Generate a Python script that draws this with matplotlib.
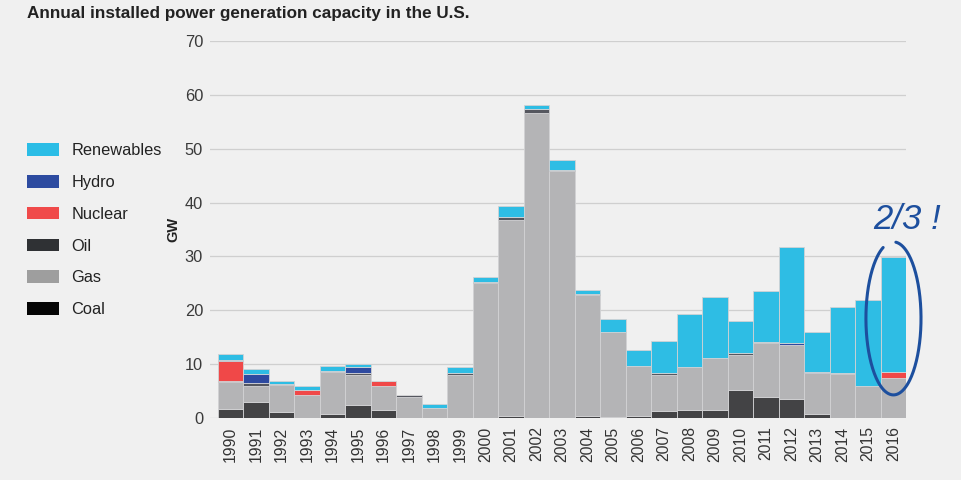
import numpy as np
import matplotlib
matplotlib.use('Agg')
import matplotlib.pyplot as plt
from matplotlib.patches import Patch

plt.rcParams['font.family'] = ['Liberation Sans', 'DejaVu Sans']

# data (GW)
years = [str(y) for y in range(1990, 2017)]
coal = [1.7, 3.0, 1.15, 0, 0.75, 2.4, 1.5, 0, 0, 0,
        0, 0.3, 0, 0, 0.4, 0.2, 0.3, 1.4, 1.55, 1.5,
        5.2, 4.0, 3.5, 0.75, 0, 0, 0]
gas = [5.0, 3.0, 5.0, 4.25, 7.8, 5.6, 4.45, 3.85, 1.8, 8.0,
       25.1, 36.4, 56.6, 45.8, 22.4, 15.8, 9.3, 6.6, 7.95, 9.7,
       6.5, 9.9, 10.1, 7.6, 8.1, 6.0, 7.5]
oil = [0.2, 0.5, 0.1, 0, 0.2, 0.3, 0, 0.4, 0, 0.3,
       0.2, 0.6, 0.7, 0.3, 0.2, 0, 0, 0.3, 0, 0,
       0.3, 0.3, 0, 0, 0.3, 0, 0]
nuclear = [3.7, 0, 0, 1.0, 0, 0, 0.95, 0, 0, 0,
           0, 0, 0, 0, 0, 0, 0, 0, 0, 0,
           0, 0, 0, 0, 0, 0, 1.0]
hydro = [0.25, 1.6, 0, 0, 0, 1.2, 0, 0, 0, 0,
         0, 0, 0, 0, 0, 0, 0, 0, 0, 0,
         0, 0, 0.3, 0.25, 0, 0, 0]
renewables = [1.0, 1.0, 0.6, 0.65, 0.9, 0.5, 0, 0, 0.75, 1.1,
              0.8, 2.0, 0.9, 1.9, 0.7, 2.4, 3.05, 6.0, 9.85, 11.3,
              6.1, 9.4, 17.9, 7.4, 12.3, 16.0, 21.4]

series = [('Coal', coal, '#434345', '#050505'),
          ('Gas', gas, '#b4b4b6', '#9e9e9e'),
          ('Oil', oil, '#55575f', '#2f3134'),
          ('Nuclear', nuclear, '#f04848', '#f04a4a'),
          ('Hydro', hydro, '#2e4aa0', '#2d4ba0'),
          ('Renewables', renewables, '#2ebde4', '#2bbde6')]

bg = '#f0f0f0'
fig = plt.figure(figsize=(9.61, 4.8), dpi=100, facecolor=bg)
ax = fig.add_axes([0.2185, 0.129, 0.7245, 0.7856], facecolor=bg)

x = np.arange(len(years))
bottom = np.zeros(len(years))
for name, vals, col, _ in series:
    v = np.array(vals, dtype=float)
    ax.bar(x, v, width=1.0, bottom=bottom, color=col,
           edgecolor='#d2d2d4', linewidth=0.6, zorder=3)
    bottom += v

ax.set_ylim(0, 70)
ax.set_xlim(-0.5 - 0.3, len(years) - 0.5)
ax.set_yticks(range(0, 71, 10))
ax.yaxis.grid(True, color='#cfcfcf', linewidth=0.9, zorder=0)
ax.set_xticks(x)
ax.set_xticklabels(years, rotation=90, fontsize=11.3, color='#333333')
ax.tick_params(axis='y', labelsize=11.8, colors='#3a3a3a', length=0, pad=5)
ax.tick_params(axis='x', length=0, pad=6)
for s in ax.spines.values():
    s.set_visible(False)
ax.set_ylabel('GW', fontsize=10.5, fontweight='bold', color='#222222', labelpad=3)

fig.text(0.028, 0.988, 'Annual installed power generation capacity in the U.S.',
         fontsize=12.3, fontweight='bold', color='#222222', va='top', ha='left')

# legend, top to bottom
handles = [Patch(facecolor=lc, edgecolor='none', label=n)
           for n, _, _, lc in series[::-1]]
fig.legend(handles=handles, loc='upper left', bbox_to_anchor=(0.013, 0.732),
           frameon=False, fontsize=11.8, handlelength=1.95, handleheight=0.8,
           labelspacing=1.02, handletextpad=0.73, labelcolor='#222222')

# hand-drawn note around 2016 (open loop, gap at the top)
ink = '#1d4f9e'
t = np.radians(np.linspace(112, 445, 200))
ax.plot(26.0 + 1.08 * np.cos(t), 18.5 + 14.2 * np.sin(t), color=ink,
        linewidth=2.2, solid_capstyle='round', clip_on=False, zorder=5)
ax.text(26.55, 33.8, '2/3 !', fontsize=25, color=ink, style='italic',
        ha='center', va='bottom', zorder=5, clip_on=False)

fig.savefig('out.png', dpi=100, facecolor=bg)
